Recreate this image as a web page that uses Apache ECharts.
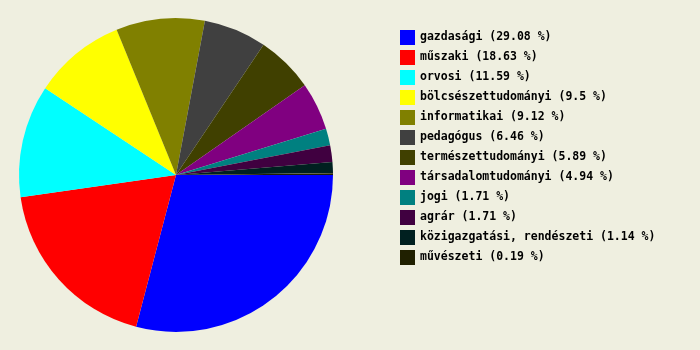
<!DOCTYPE html>
<html><head><meta charset="utf-8">
<script src="https://cdn.jsdelivr.net/npm/echarts@6/dist/echarts.min.js"></script>
<style>html,body{margin:0;padding:0;background:#EFEFE0;}#c{width:700px;height:350px;}</style>
</head><body><div id="c"></div>
<script>
var categories = ['gazdasági','műszaki','orvosi','bölcsészettudományi','informatikai','pedagógus','természettudományi','társadalomtudományi','jogi','agrár','közigazgatási, rendészeti','művészeti'];
var values = [29.08, 18.63, 11.59, 9.5, 9.12, 6.46, 5.89, 4.94, 1.71, 1.71, 1.14, 0.19];
var colors = ['#0000FF','#FF0000','#00FFFF','#FFFF00','#808000','#404040','#404000','#800080','#008080','#400040','#002020','#202000'];

var chart = echarts.init(document.getElementById('c'), null, {renderer:'canvas'});
var data = categories.map(function(n,i){return {name:n, value:values[i], itemStyle:{color:colors[i]}};});
chart.setOption({
  backgroundColor:'#EFEFE0',
  animation:false,
  legend:{
    orient:'vertical', left:400, top:30, padding:0,
    itemWidth:15, itemHeight:15, itemGap:5,
    icon:'rect',
    selectedMode:false,
    textStyle:{fontFamily:'DejaVu Sans Mono', fontWeight:'bold', fontSize:11.5, color:'#000'},
    formatter:function(name){var i=categories.indexOf(name);return name+' ('+values[i]+' %)';},
    data:categories
  },
  series:[{
    type:'pie', center:[176,175], radius:[0,157],
    startAngle:0, clockwise:true, silent:true,
    label:{show:false}, labelLine:{show:false},
    itemStyle:{borderWidth:0},
    data:data
  }]
});
</script></body></html>
